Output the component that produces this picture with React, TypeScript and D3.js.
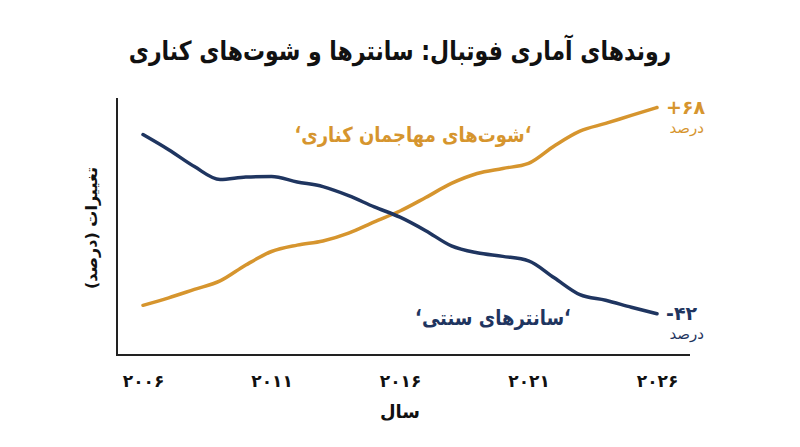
import * as d3 from 'd3'
import { useEffect, useRef } from 'react'

const years = d3.range(2006, 2027)
const wingShots = [-37.5, -33.5, -29, -24.5, -16, -8.8, -5.4, -3.2, 1, 7, 12.8, 20, 27.5, 32.8, 35.5, 38.2, 47.5, 55.4, 59.5, 63.8, 68]
const crosses = [53.6, 45.5, 36.5, 29.6, 30.9, 31.2, 28.3, 25.8, 21, 15, 9.5, 2.3, -5.8, -9.5, -11.4, -13.8, -22.8, -31.8, -34.8, -38.5, -42]
const tickYears = [2006, 2011, 2016, 2021, 2026]
const tickLabels = ['۲۰۰۶', '۲۰۱۱', '۲۰۱۶', '۲۰۲۱', '۲۰۲۶']

const ORANGE = '#D6952E'
const NAVY = '#1F3560'
const FONT = '"DejaVu Sans", "Noto Sans", sans-serif'

const App = () => {
  const ref = useRef<SVGSVGElement>(null)
  useEffect(() => {
    const svg = d3.select(ref.current)
    svg.selectAll('*').remove()
    const width = 800
    const height = 447
    const x = d3.scaleLinear().domain([2006, 2026]).range([143, 657])
    const y = d3.scaleLinear().domain([-64, 72]).range([355, 100])

    svg.append('rect').attr('width', width).attr('height', height).attr('fill', '#fff')

    // title
    svg.append('text').attr('transform', 'translate(400,60) scale(1,1.2)').attr('text-anchor', 'middle')
      .attr('direction', 'rtl').attr('font-family', FONT).attr('font-weight', 'bold')
      .attr('font-size', 22).attr('fill', '#111')
      .text('روندهای آماری فوتبال: سانترها و شوت‌های کناری')

    // axes
    svg.append('line').attr('x1', 117).attr('x2', 117).attr('y1', 98).attr('y2', 356)
      .attr('stroke', '#222').attr('stroke-width', 2)
    svg.append('line').attr('x1', 116).attr('x2', 690).attr('y1', 355).attr('y2', 355)
      .attr('stroke', '#222').attr('stroke-width', 2)

    const xAxis = d3.axisBottom(x).tickValues(tickYears).tickSize(0)
      .tickFormat((d, i) => tickLabels[i])
    const gx = svg.append('g').attr('transform', 'translate(0,372)').call(xAxis)
    gx.select('.domain').remove()
    gx.selectAll('text').attr('font-family', FONT).attr('font-weight', 'bold')
      .attr('font-size', 17).attr('fill', '#111').attr('dy', '0.71em')

    svg.append('text').attr('x', 400).attr('y', 418).attr('text-anchor', 'middle')
      .attr('direction', 'rtl').attr('font-family', FONT).attr('font-weight', 'bold')
      .attr('font-size', 18).attr('fill', '#111').text('سال')

    svg.append('text').attr('transform', 'translate(97,228) rotate(-90)').attr('text-anchor', 'middle')
      .attr('direction', 'rtl').attr('font-family', FONT).attr('font-weight', 'bold')
      .attr('font-size', 16).attr('fill', '#111').text('تغییرات (درصد)')

    const line = d3.line<number>().x((d, i) => x(years[i])).y(d => y(d)).curve(d3.curveMonotoneX)
    svg.append('path').attr('d', line(wingShots)).attr('fill', 'none').attr('stroke', ORANGE)
      .attr('stroke-width', 3.5).attr('stroke-linecap', 'round').attr('stroke-linejoin', 'round')
    svg.append('path').attr('d', line(crosses)).attr('fill', 'none').attr('stroke', NAVY)
      .attr('stroke-width', 3.5).attr('stroke-linecap', 'round').attr('stroke-linejoin', 'round')

    // series labels
    svg.append('text').attr('transform', 'translate(413,142) scale(1,1.15)').attr('text-anchor', 'middle')
      .attr('direction', 'rtl').attr('font-family', FONT).attr('font-weight', 'bold')
      .attr('font-size', 18).attr('fill', ORANGE).text('‘شوت‌های مهاجمان کناری‘')
    svg.append('text').attr('transform', 'translate(493,325) scale(1,1.15)').attr('text-anchor', 'middle')
      .attr('direction', 'rtl').attr('font-family', FONT).attr('font-weight', 'bold')
      .attr('font-size', 18).attr('fill', NAVY).text('‘سانترهای سنتی‘')

    // end labels
    const last = years.length - 1
    const ends = [
      { v: wingShots[last], label: '+۶۸', color: ORANGE },
      { v: crosses[last], label: '-۴۲', color: NAVY },
    ]
    ends.forEach(e => {
      svg.append('text').attr('x', 666).attr('y', y(e.v) + 6).attr('direction', 'ltr')
        .attr('font-family', FONT).attr('font-weight', 'bold').attr('font-size', 19)
        .attr('fill', e.color).text(e.label)
      svg.append('text').attr('x', 704).attr('y', y(e.v) + 25).attr('text-anchor', 'start')
        .attr('direction', 'rtl').attr('font-family', FONT).attr('font-size', 15)
        .attr('fill', e.color).text('درصد')
    })
  }, [])
  return <svg ref={ref} width={800} height={447} style={{ position: 'absolute', left: 0, top: 0 }} />
}

export default App
